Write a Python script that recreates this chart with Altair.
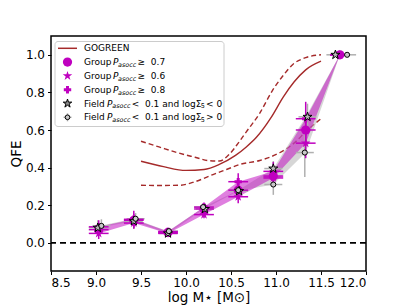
import altair as alt
import pandas as pd

# ---------------- data ----------------
bins_x = [9.03, 9.42, 9.80, 10.20, 10.58, 10.97, 11.33, 11.71]

g07_y = [0.07, 0.12, 0.055, 0.18, 0.28, 0.355, 0.60, 1.0]
g07_err = [0.03, 0.03, 0.015, 0.02, 0.04, 0.04, 0.08, 0.0]
g06_y = [0.05, 0.105, 0.05, 0.15, 0.245, 0.345, 0.53, 1.0]
g06_err = [0.03, 0.03, 0.015, 0.02, 0.035, 0.04, 0.08, 0.0]
g08_y = [0.085, 0.125, 0.06, 0.19, 0.325, 0.38, 0.66, 1.0]
g08_err = [0.035, 0.045, 0.015, 0.025, 0.045, 0.05, 0.09, 0.0]
group_xerr = 0.11

fs_x = [9.02, 9.42, 9.80, 10.21, 10.59, 10.97, 11.35, 11.66]
fs_y = [0.08, 0.115, 0.05, 0.18, 0.275, 0.395, 0.67, 1.0]
fs_err = [0.04, 0.04, 0.02, 0.02, 0.03, 0.04, 0.07, 0.0]
fc_x = [9.06, 9.44, 9.81, 10.19, 10.58, 10.97, 11.32, 11.79]
fc_y = [0.09, 0.128, 0.062, 0.19, 0.28, 0.31, 0.48, 1.0]
fc_err = [0.035, 0.03, 0.015, 0.02, 0.03, 0.055, 0.13, 0.0]
field_xerr = 0.10

gg_x = [9.5, 9.75, 10.0, 10.2, 10.37, 10.55, 10.67, 10.78, 10.95, 11.08, 11.2, 11.33, 11.5]
gg_y = [0.434, 0.405, 0.385, 0.39, 0.417, 0.465, 0.51, 0.56, 0.67, 0.775, 0.855, 0.92, 0.966]
gu_x = [9.5, 9.7, 9.9, 10.1, 10.25, 10.37, 10.48, 10.58, 10.67, 10.82, 10.96, 11.08, 11.19, 11.33, 11.5]
gu_y = [0.54, 0.51, 0.48, 0.455, 0.437, 0.435, 0.47, 0.53, 0.59, 0.69, 0.81, 0.89, 0.95, 0.985, 1.0]
gl_x = [9.5, 9.7, 9.93, 10.1, 10.3, 10.45, 10.6, 10.82, 11.04, 11.2, 11.35, 11.5]
gl_y = [0.306, 0.305, 0.306, 0.325, 0.363, 0.39, 0.417, 0.438, 0.479, 0.53, 0.6, 0.66]

x_ticks = [8.5, 9.0, 9.5, 10.0, 10.5, 11.0, 11.5, 12.0]
y_ticks = [0.0, 0.2, 0.4, 0.6, 0.8, 1.0]

NB = "\u00a0"
legend_rows = [
    [("GOGREEN", "n")],
    [("Group" + NB, "n"), ("P", "i"), ("asocc", "isub"), (NB + "\u2265" + NB + NB + "0.7", "n")],
    [("Group" + NB, "n"), ("P", "i"), ("asocc", "isub"), (NB + "\u2265" + NB + NB + "0.6", "n")],
    [("Group" + NB, "n"), ("P", "i"), ("asocc", "isub"), (NB + "\u2265" + NB + NB + "0.8", "n")],
    [("Field" + NB, "n"), ("P", "i"), ("asocc", "isub"),
     (NB + "<" + NB + NB + "0.1" + NB + "and" + NB + "log\u03a3", "n"), ("5", "sub"), (NB + "<" + NB + "0", "n")],
    [("Field" + NB, "n"), ("P", "i"), ("asocc", "isub"),
     (NB + "<" + NB + NB + "0.1" + NB + "and" + NB + "log\u03a3", "n"), ("5", "sub"), (NB + ">" + NB + "0", "n")],
]

# ---------------- styles ----------------
MAG = "#bf00bf"
BROWN = "#a52a2a"
FONT = "DejaVu Sans"
XDOM = [8.5, 12.0]
YDOM = [-0.15, 1.1]
STAR = ("M0,-1L0.2245,-0.309L0.951,-0.309L0.363,0.118L0.588,0.809L0,0.382"
        "L-0.588,0.809L-0.363,0.118L-0.951,-0.309L-0.2245,-0.309Z")

xaxis = alt.Axis(values=x_ticks, format=".1f", title="log M\u22c6  [M\u2299]", titleFontSize=13.5,
                 labelPadding=3, titlePadding=2)
yaxis = alt.Axis(values=y_ticks, format=".1f", title="QFE", titleFontSize=13.5,
                 labelPadding=3, titlePadding=1.5)


def X(f):
    return alt.X(f, type="quantitative", scale=alt.Scale(domain=XDOM, nice=False, zero=False), axis=xaxis)


def Y(f):
    return alt.Y(f, type="quantitative", scale=alt.Scale(domain=YDOM, nice=False, zero=False), axis=yaxis)


layers = []

# GOGREEN curves
for xs, ys, dash in [(gu_x, gu_y, [5, 3]), (gl_x, gl_y, [5, 3]), (gg_x, gg_y, None)]:
    df = pd.DataFrame({"x": xs, "y": ys})
    kw = dict(color=BROWN, strokeWidth=1.4, interpolate="monotone", clip=True)
    if dash:
        kw["strokeDash"] = dash
    layers.append(alt.Chart(df).mark_line(**kw).encode(x=X("x"), y=Y("y"), order="x:Q"))

# bands
band = pd.DataFrame({
    "x": bins_x,
    "glo": [min(a, b, c) for a, b, c in zip(g07_y, g06_y, g08_y)],
    "ghi": [max(a, b, c) for a, b, c in zip(g07_y, g06_y, g08_y)],
    "flo": [min(a, b) for a, b in zip(fs_y, fc_y)],
    "fhi": [max(a, b) for a, b in zip(fs_y, fc_y)],
})
layers.append(alt.Chart(band).mark_area(color="#b4b4b4", opacity=0.55, clip=True).encode(
    x=X("x"), y=Y("flo"), y2="fhi"))
layers.append(alt.Chart(band).mark_area(color=MAG, opacity=0.5, clip=True).encode(
    x=X("x"), y=Y("glo"), y2="ghi"))


def errbars(xs, ys, errs, xerr, color, width):
    df = pd.DataFrame({"x": xs, "y": ys})
    df["xlo"] = df["x"] - xerr
    df["xhi"] = df["x"] + xerr
    df["ylo"] = df["y"] - pd.Series(errs)
    df["yhi"] = df["y"] + pd.Series(errs)
    h = alt.Chart(df).mark_rule(color=color, strokeWidth=width, clip=True).encode(x=X("xlo"), x2="xhi", y=Y("y"))
    v = alt.Chart(df).mark_rule(color=color, strokeWidth=width, clip=True).encode(x=X("x"), y=Y("ylo"), y2="yhi")
    return [h, v]


# field error bars
layers += errbars(fc_x, fc_y, fc_err, field_xerr, "#b0b0b0", 1.5)
layers += errbars(fs_x, fs_y, fs_err, field_xerr, "#b0b0b0", 1.5)
# group error bars
layers += errbars(bins_x, g06_y, g06_err, group_xerr, MAG, 1.5)
layers += errbars(bins_x, g07_y, g07_err, group_xerr, MAG, 1.5)
layers += errbars(bins_x, g08_y, g08_err, group_xerr, MAG, 1.5)

layers.append(alt.Chart(pd.DataFrame({"x": bins_x, "y": g06_y})).mark_point(
    shape=STAR, size=100, filled=True, color=MAG, opacity=1).encode(x=X("x"), y=Y("y")))
layers.append(alt.Chart(pd.DataFrame({"x": bins_x, "y": g08_y})).mark_point(
    shape="cross", size=55, filled=True, color=MAG, opacity=1).encode(x=X("x"), y=Y("y")))
layers.append(alt.Chart(pd.DataFrame({"x": bins_x, "y": g07_y})).mark_point(
    shape="circle", size=85, filled=True, color=MAG, opacity=1).encode(x=X("x"), y=Y("y")))
layers.append(alt.Chart(pd.DataFrame({"x": fs_x, "y": fs_y})).mark_point(
    shape=STAR, size=90, filled=True, fill="#b8b8b8", stroke="black", strokeWidth=1, opacity=1).encode(
    x=X("x"), y=Y("y")))
layers.append(alt.Chart(pd.DataFrame({"x": fc_x, "y": fc_y})).mark_point(
    shape="circle", size=26, filled=True, fill="#c8c8c8", stroke="black", strokeWidth=1, opacity=1).encode(
    x=X("x"), y=Y("y")))

# zero line
layers.append(alt.Chart(pd.DataFrame({"y": [0.0]})).mark_rule(
    color="black", strokeWidth=1.8, strokeDash=[6, 4]).encode(y=Y("y")))

# ---------------- legend ----------------
one = pd.DataFrame({"a": [0]})
layers.append(alt.Chart(one).mark_rect(fill="white", fillOpacity=0.85, stroke="#cccccc", strokeWidth=1,
                                       cornerRadius=3).encode(
    x=alt.value(4), x2=alt.value(173), y=alt.value(5.5), y2=alt.value(90.5)))

row_y = [12.3, 26.1, 39.9, 53.7, 67.5, 81.3]
sym_x = 16.5
layers.append(alt.Chart(one).mark_rule(color=BROWN, strokeWidth=1.5).encode(
    x=alt.value(7), x2=alt.value(26), y=alt.value(row_y[0])))
layers.append(alt.Chart(one).mark_point(shape="circle", size=85, filled=True, color=MAG, opacity=1).encode(
    x=alt.value(sym_x), y=alt.value(row_y[1])))
layers.append(alt.Chart(one).mark_point(shape=STAR, size=100, filled=True, color=MAG, opacity=1).encode(
    x=alt.value(sym_x), y=alt.value(row_y[2])))
layers.append(alt.Chart(one).mark_point(shape="cross", size=55, filled=True, color=MAG, opacity=1).encode(
    x=alt.value(sym_x), y=alt.value(row_y[3])))
layers.append(alt.Chart(one).mark_point(shape=STAR, size=80, filled=True, fill="#888888", stroke="black",
                                        strokeWidth=1, opacity=1).encode(
    x=alt.value(sym_x), y=alt.value(row_y[4])))
layers.append(alt.Chart(one).mark_rule(color="#b0b0b0", strokeWidth=1.5).encode(
    x=alt.value(sym_x - 4), x2=alt.value(sym_x + 4), y=alt.value(row_y[5])))
layers.append(alt.Chart(one).mark_rule(color="#b0b0b0", strokeWidth=1.5).encode(
    x=alt.value(sym_x), y=alt.value(row_y[5] - 4), y2=alt.value(row_y[5] + 4)))
layers.append(alt.Chart(one).mark_point(shape="circle", size=22, filled=True, fill="#c8c8c8", stroke="black",
                                        strokeWidth=1, opacity=1).encode(
    x=alt.value(sym_x), y=alt.value(row_y[5])))

W = {" ": .318, NB: .318, ".": .318, "<": .838, ">": .838, "\u2265": .838, "a": .613, "c": .550, "d": .635,
     "e": .615, "g": .635, "i": .278, "l": .278, "n": .634, "o": .612, "p": .635, "r": .411, "s": .521,
     "u": .634, "F": .575, "G": .775, "P": .603, "\u03a3": .632, "O": .787, "R": .695, "E": .632, "N": .748}
for d in "0123456789":
    W[d] = .636


def tw(s, size):
    return sum(W.get(c, .6) for c in s) * size


FS = 9.0
SFS = 6.4
text_x0 = 33.0
for ry, pieces in zip(row_y, legend_rows):
    cx = text_x0
    for txt, kind in pieces:
        sub = "sub" in kind
        size = SFS if sub else FS
        style = "italic" if kind.startswith("i") else "normal"
        layers.append(alt.Chart(one).mark_text(
            text=txt, font=FONT, fontSize=size, fontStyle=style, align="left", baseline="middle",
            color="black").encode(x=alt.value(cx), y=alt.value(ry + (2.8 if sub else 0))))
        cx += (tw(txt, size) + 1.3) if sub else tw(txt, size) * 0.95

chart = alt.layer(*layers).properties(
    width=315, height=235,
    autosize=alt.AutoSizeParams(type="none"),
    padding={"left": 43, "top": 28, "right": 33, "bottom": 34},
).configure_view(stroke="black", strokeWidth=1.5).configure_axis(
    labelFont=FONT, labelFontSize=12, labelColor="black", tickColor="black", tickSize=3.5, tickWidth=1,
    domain=False, grid=False, titleFont=FONT, titleFontWeight="normal", titleColor="black",
)

chart.save("out.html", embed_options={"renderer": "svg", "actions": False})
